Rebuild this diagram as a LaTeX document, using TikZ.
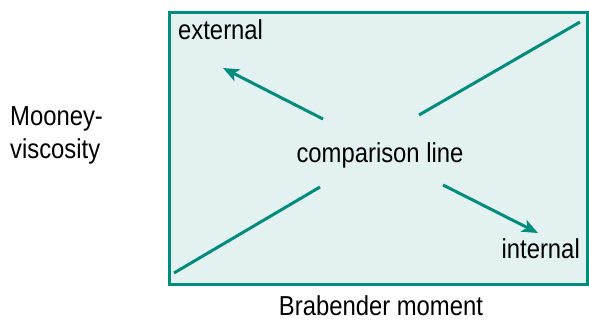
\documentclass[tikz,border=0pt]{standalone}
\usepackage{fontspec}
\setmainfont{Liberation Sans}[FakeStretch=0.87]
\usetikzlibrary{arrows.meta}
\definecolor{teal1}{HTML}{008C7C}
\definecolor{tealbg}{HTML}{E4F1F1}
\begin{document}
\begin{tikzpicture}[x=1bp,y=-1bp,
  lbl/.style={inner sep=0pt,font=\fontsize{27.5}{33}\selectfont},
  trend/.style={teal1,line width=3bp},
  arr/.style={teal1,line width=3bp,-{Stealth[length=16bp,width=13bp,inset=4bp]}}]
\useasboundingbox (0,0) rectangle (589,321);
\draw[teal1,fill=tealbg,line width=3bp] (169.5,12) rectangle (587.5,284.5);
\node[lbl,anchor=base west] (ext) at (178,39) {external};
\node[lbl,anchor=base] (cmp) at (380,162) {comparison line};
\node[lbl,anchor=base east] (int) at (580,258) {internal};
\node[lbl,anchor=base west,align=left] (moo) at (10,158) {Mooney-\\viscosity};
\node[lbl,anchor=base,text depth=0pt] (bra) at (381,315) {Brabender moment};
\coordinate (l1a) at (174,273);
\coordinate (l1b) at (320,187);
\coordinate (l2a) at (419,115);
\coordinate (l2b) at (580,22);
\coordinate (a1s) at (323,119);
\coordinate (a1e) at (223,68);
\coordinate (a2s) at (443,185);
\coordinate (a2e) at (538,233);
\draw[trend] (l1a) -- (l1b);
\draw[trend] (l2a) -- (l2b);
\draw[arr] (a1s) -- (a1e);
\draw[arr] (a2s) -- (a2e);
\end{tikzpicture}
\end{document}
